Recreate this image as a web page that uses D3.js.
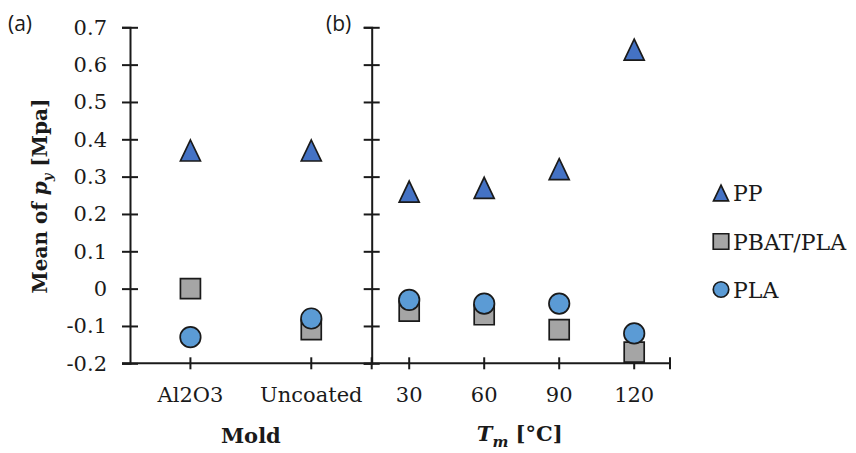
<!DOCTYPE html>
<html>
<head>
<meta charset="utf-8">
<script src="https://cdn.jsdelivr.net/npm/d3@7"></script>
<style>
  html, body { margin: 0; padding: 0; background: #fff; }
  svg { display: block; }
  text { fill: #1a1a1a; }
</style>
</head>
<body>
<svg id="chart" width="856" height="453"></svg>
<script>
// Panel (a): mold coating
const moldCategories = ["Al2O3", "Uncoated"];
const moldPP = [0.37, 0.37];
const moldPBAT = [0.0, -0.11];
const moldPLA = [-0.13, -0.08];

// Panel (b): melt temperature
const tempCategories = ["30", "60", "90", "120"];
const tempPP = [0.26, 0.27, 0.32, 0.64];
const tempPBAT = [-0.06, -0.07, -0.11, -0.17];
const tempPLA = [-0.03, -0.04, -0.04, -0.12];

const yTicks = [-0.2, -0.1, 0, 0.1, 0.2, 0.3, 0.4, 0.5, 0.6, 0.7];
const seriesNames = ["PP", "PBAT/PLA", "PLA"];

const colors = { PP: "#4472C4", "PBAT/PLA": "#A5A5A5", PLA: "#5B9BD5" };
const ink = "#1a1a1a";
const serif = "'DejaVu Serif', serif";
const sans = "'Open Sans', 'Noto Sans', sans-serif";

const svg = d3.select("#chart");

const y = d3.scaleLinear().domain([-0.2, 0.7]).range([363.3, 27.3]);
const xa = d3.scaleBand().domain(moldCategories).range([130, 371.7]);
const xb = d3.scaleBand().domain(tempCategories).range([371.7, 671.7]);

// tick labels use a plain hyphen for negatives
const fmt = d => d === 0 ? "0" : d3.format(".1f")(d).replace("\u2212", "-");

// marker shapes
function trianglePath(w, h) {
  return `M0,${-h / 2}L${w / 2},${h / 2}L${-w / 2},${h / 2}Z`;
}
function squarePath(s) {
  return `M${-s / 2},${-s / 2}h${s}v${s}h${-s}Z`;
}
function drawMarker(g, kind, cx, cy, size) {
  const sw = 1.7;
  if (kind === "PP") {
    g.append("path").attr("d", trianglePath(size, size * 1.05))
      .attr("transform", `translate(${cx},${cy})`)
      .attr("fill", colors.PP).attr("stroke", ink).attr("stroke-width", sw);
  } else if (kind === "PBAT/PLA") {
    g.append("path").attr("d", squarePath(size))
      .attr("transform", `translate(${cx},${cy})`)
      .attr("fill", colors["PBAT/PLA"]).attr("stroke", ink).attr("stroke-width", sw);
  } else {
    g.append("circle").attr("cx", cx).attr("cy", cy).attr("r", size / 2)
      .attr("fill", colors.PLA).attr("stroke", ink).attr("stroke-width", sw);
  }
}

// axes
const axisG = svg.append("g");

function yAxis(xPos, withLabels) {
  const g = axisG.append("g").attr("transform", `translate(${xPos},0)`)
    .call(d3.axisLeft(y).tickValues(yTicks).tickSizeOuter(0).tickSize(8)
      .tickFormat(withLabels ? fmt : ""));
  g.select(".domain").attr("stroke", ink).attr("stroke-width", 2);
  g.selectAll(".tick line").attr("x1", -8).attr("x2", 8)
    .attr("stroke", ink).attr("stroke-width", 2);
  g.selectAll(".tick text").attr("x", -23)
    .style("font-family", serif).style("font-size", "21px").attr("fill", ink);
  return g;
}
yAxis(xa.range()[0], true);
yAxis(xb.range()[0], false);

function xAxis(scale) {
  const g = axisG.append("g").attr("transform", `translate(0,${y(-0.2)})`)
    .call(d3.axisBottom(scale).tickSizeOuter(0).tickSize(6));
  g.select(".domain").remove();
  g.selectAll(".tick line").attr("y1", -6).attr("y2", 6)
    .attr("stroke", ink).attr("stroke-width", 2);
  g.selectAll(".tick text").attr("y", 24)
    .style("font-family", serif).style("font-size", "21px").attr("fill", ink);
  return g;
}
xAxis(xa);
xAxis(xb);

// horizontal baseline across both panels
axisG.append("line")
  .attr("x1", xa.range()[0] - 8).attr("x2", xb.range()[1] - 1.7)
  .attr("y1", y(-0.2)).attr("y2", y(-0.2))
  .attr("stroke", ink).attr("stroke-width", 2);
// boundary ticks at the panel divider and right end
[xb.range()[0], xb.range()[1] - 1.7].forEach(xv => {
  axisG.append("line").attr("x1", xv).attr("x2", xv)
    .attr("y1", y(-0.2) - 6).attr("y2", y(-0.2) + 6)
    .attr("stroke", ink).attr("stroke-width", 2);
});

// data markers: triangles, then squares, then circles on top
const marks = svg.append("g");
function plotPanel(scale, cats, pp, pbat, pla) {
  cats.forEach((c, i) => {
    const cx = scale(c) + scale.bandwidth() / 2;
    drawMarker(marks, "PP", cx, y(pp[i]), 20);
  });
  cats.forEach((c, i) => {
    const cx = scale(c) + scale.bandwidth() / 2;
    drawMarker(marks, "PBAT/PLA", cx, y(pbat[i]), 20);
  });
  cats.forEach((c, i) => {
    const cx = scale(c) + scale.bandwidth() / 2;
    drawMarker(marks, "PLA", cx, y(pla[i]), 20.5);
  });
}
plotPanel(xa, moldCategories, moldPP, moldPBAT, moldPLA);
plotPanel(xb, tempCategories, tempPP, tempPBAT, tempPLA);

// axis titles
svg.append("text")
  .attr("x", (xa.range()[0] + xa.range()[1]) / 2).attr("y", 443)
  .attr("text-anchor", "middle")
  .style("font-family", serif).style("font-size", "21px").style("font-weight", "bold")
  .text("Mold");

const tTitle = svg.append("text")
  .attr("x", (xb.range()[0] + xb.range()[1]) / 2 - 2).attr("y", 441)
  .attr("text-anchor", "middle")
  .style("font-family", serif).style("font-size", "21px").style("font-weight", "bold");
tTitle.append("tspan").style("font-style", "italic").text("T");
tTitle.append("tspan").style("font-style", "italic").style("font-size", "15px")
  .attr("dy", 6).text("m");
tTitle.append("tspan").attr("dy", -6).text(" [°C]");

const yTitle = svg.append("text")
  .attr("transform", `translate(47,196) rotate(-90)`)
  .attr("text-anchor", "middle")
  .style("font-family", serif).style("font-size", "20px").style("font-weight", "bold");
yTitle.append("tspan").text("Mean of ");
yTitle.append("tspan").style("font-style", "italic").text("p");
yTitle.append("tspan").style("font-style", "italic").style("font-size", "13px")
  .attr("dy", 5).text("y");
yTitle.append("tspan").attr("dy", -5).text(" [Mpa]");

// panel tags
svg.append("text").attr("x", 8).attr("y", 31)
  .style("font-family", sans).style("font-size", "21px").text("(a)");
svg.append("text").attr("x", 326).attr("y", 31)
  .style("font-family", sans).style("font-size", "21px").text("(b)");

// legend
const legendY = [193, 241.5, 289.5];
const legend = svg.append("g");
seriesNames.forEach((name, i) => {
  drawMarker(legend, name, 721, legendY[i], name === "PP" ? 15 : 15.5);
  legend.append("text").attr("x", 733).attr("y", legendY[i] + 8)
    .style("font-family", serif).style("font-size", "22px").text(name);
});
</script>
</body>
</html>
